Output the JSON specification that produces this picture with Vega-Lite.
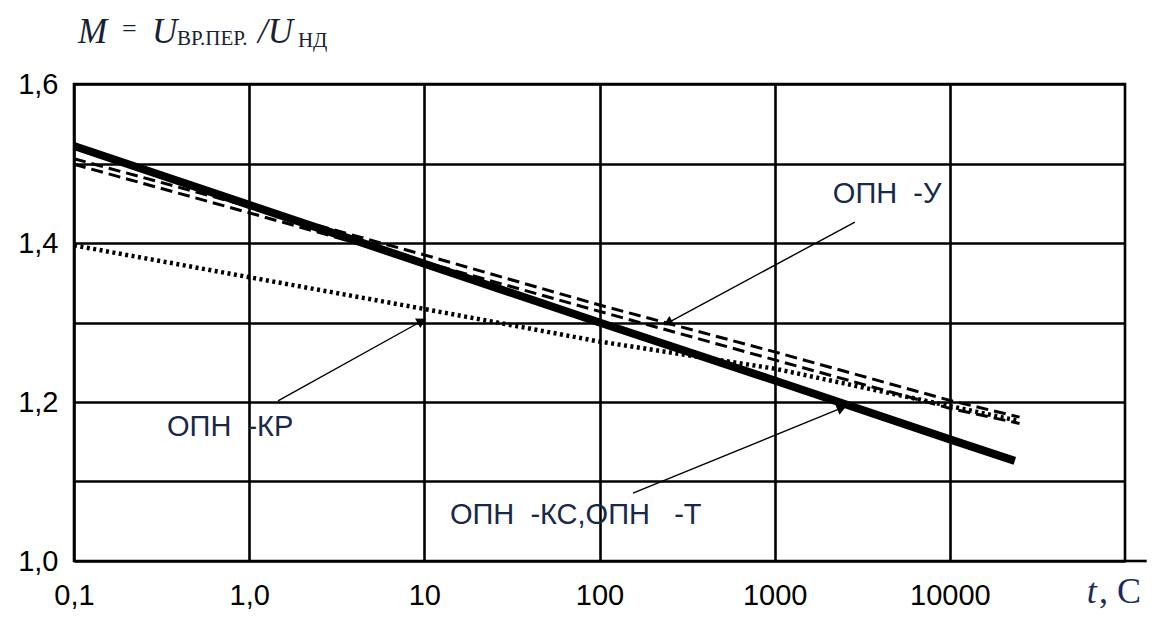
{
  "$schema": "https://vega.github.io/schema/vega-lite/v6.json",
  "width": 1051,
  "height": 477,
  "autosize": "none",
  "padding": {"left": 74, "top": 84, "right": 38, "bottom": 58},
  "background": "white",
  "config": {
    "view": {"stroke": "#000", "strokeWidth": 2.6},
    "axis": {
      "domain": false,
      "ticks": false,
      "grid": true,
      "gridColor": "#000",
      "gridWidth": 2.6,
      "gridOpacity": 1,
      "labelColor": "#000",
      "labelFont": "Liberation Sans",
      "labelFontSize": 29,
      "labelOverlap": false,
      "labelFlush": false,
      "labelBound": false,
      "title": null
    },
    "axisX": {"labelPadding": 20},
    "axisY": {"labelPadding": 16}
  },
  "datasets": {
    "curves": [
      {"series": "КС,Т", "t": 0.1, "m": 1.522},
      {"series": "КС,Т", "t": 1, "m": 1.448},
      {"series": "КС,Т", "t": 10, "m": 1.374},
      {"series": "КС,Т", "t": 100, "m": 1.3},
      {"series": "КС,Т", "t": 1000, "m": 1.227},
      {"series": "КС,Т", "t": 10000, "m": 1.153},
      {"series": "КС,Т", "t": 23500, "m": 1.126},
      {"series": "У1", "t": 0.1, "m": 1.506},
      {"series": "У1", "t": 1, "m": 1.446},
      {"series": "У1", "t": 10, "m": 1.385},
      {"series": "У1", "t": 100, "m": 1.322},
      {"series": "У1", "t": 1000, "m": 1.263},
      {"series": "У1", "t": 10000, "m": 1.202},
      {"series": "У1", "t": 25000, "m": 1.181},
      {"series": "У2", "t": 0.1, "m": 1.499},
      {"series": "У2", "t": 1, "m": 1.438},
      {"series": "У2", "t": 10, "m": 1.376},
      {"series": "У2", "t": 100, "m": 1.314},
      {"series": "У2", "t": 1000, "m": 1.253},
      {"series": "У2", "t": 10000, "m": 1.192},
      {"series": "У2", "t": 25000, "m": 1.173},
      {"series": "КР", "t": 0.1, "m": 1.397},
      {"series": "КР", "t": 1, "m": 1.357},
      {"series": "КР", "t": 10, "m": 1.317},
      {"series": "КР", "t": 100, "m": 1.276},
      {"series": "КР", "t": 1000, "m": 1.242},
      {"series": "КР", "t": 10000, "m": 1.195},
      {"series": "КР", "t": 25000, "m": 1.176}
    ],
    "arrows": [
      {"name": "У", "t": 2870, "m": 1.4264, "t2": 245.5, "m2": 1.2994},
      {"name": "КР", "t": 1.46, "m": 1.2013, "t2": 9.68, "m2": 1.3019},
      {"name": "КС", "t": 155.3, "m": 1.0855, "t2": 2419, "m2": 1.1925}
    ],
    "labels": [
      {"txt": "ОПН\u00a0\u00a0-У", "t": 2148, "m": 1.4616},
      {"txt": "ОПН\u00a0\u00a0-КР", "t": 0.3395, "m": 1.1686},
      {"txt": "ОПН\u00a0\u00a0-КС,ОПН\u00a0\u00a0\u00a0-Т", "t": 14.0, "m": 1.0579}
    ],
    "formula": [
      {"txt": "M", "t": 0.1054, "m": 1.6516, "kind": "big"},
      {"txt": "=", "t": 0.1879, "m": 1.659, "kind": "eq"},
      {"txt": "U", "t": 0.2787, "m": 1.6516, "kind": "big"},
      {"txt": "ВР.ПЕР.", "t": 0.3872, "m": 1.649, "kind": "small"},
      {"txt": "/U", "t": 1.122, "m": 1.6516, "kind": "big"},
      {"txt": "НД", "t": 1.899, "m": 1.6465, "kind": "small"},
      {"txt": "t", "t": 60500, "m": 0.947, "kind": "tit"},
      {"txt": ", C", "t": 71000, "m": 0.947, "kind": "tup"}
    ],
    "extension": [
      {"t": 100000, "t2": 133000, "m": 1.0}
    ]
  },
  "layer": [
    {
      "data": {"name": "curves"},
      "transform": [{"filter": "datum.series == 'КС,Т'"}],
      "mark": {"type": "line", "color": "#000", "strokeWidth": 8, "strokeCap": "butt"},
      "encoding": {
        "x": {
          "field": "t", "type": "quantitative", "title": null,
          "scale": {"type": "log", "domain": [0.1, 100000]},
          "axis": {
            "values": [0.1, 1, 10, 100, 1000, 10000],
            "labelExpr": "datum.value < 0.5 ? '0,1' : datum.value < 5 ? '1,0' : format(datum.value, 'd')"
          }
        },
        "y": {
          "field": "m", "type": "quantitative", "title": null,
          "scale": {"domain": [1.0, 1.6], "zero": false, "nice": false},
          "axis": {
            "values": [1.0, 1.1, 1.2, 1.3, 1.4, 1.5, 1.6],
            "labelExpr": "round(datum.value * 10) % 2 == 0 ? replace(format(datum.value, '.1f'), '.', ',') : ''"
          }
        }
      }
    },
    {
      "data": {"name": "curves"},
      "transform": [{"filter": "datum.series == 'У1' || datum.series == 'У2'"}],
      "mark": {"type": "line", "color": "#000", "strokeWidth": 3, "strokeDash": [12, 6], "strokeCap": "butt"},
      "encoding": {
        "x": {"field": "t", "type": "quantitative", "title": null},
        "y": {"field": "m", "type": "quantitative", "title": null},
        "detail": {"field": "series"}
      }
    },
    {
      "data": {"name": "curves"},
      "transform": [{"filter": "datum.series == 'КР'"}],
      "mark": {"type": "line", "color": "#000", "strokeWidth": 4.5, "strokeDash": [3, 3.5], "strokeCap": "butt"},
      "encoding": {
        "x": {"field": "t", "type": "quantitative", "title": null},
        "y": {"field": "m", "type": "quantitative", "title": null}
      }
    },
    {
      "data": {"name": "arrows"},
      "mark": {"type": "rule", "color": "#000", "strokeWidth": 1.4},
      "encoding": {
        "x": {"field": "t", "type": "quantitative", "title": null},
        "y": {"field": "m", "type": "quantitative", "title": null},
        "x2": {"field": "t2"},
        "y2": {"field": "m2"}
      }
    },
    {
      "data": {"name": "arrows"},
      "transform": [{"filter": "datum.name == 'У'"}],
      "mark": {"type": "point", "shape": "triangle-right", "filled": true, "color": "#000", "opacity": 1, "size": 120, "angle": 151.6},
      "encoding": {
        "x": {"field": "t2", "type": "quantitative", "title": null},
        "y": {"field": "m2", "type": "quantitative", "title": null}
      }
    },
    {
      "data": {"name": "arrows"},
      "transform": [{"filter": "datum.name == 'КР'"}],
      "mark": {"type": "point", "shape": "triangle-right", "filled": true, "color": "#000", "opacity": 1, "size": 120, "angle": 331},
      "encoding": {
        "x": {"field": "t2", "type": "quantitative", "title": null},
        "y": {"field": "m2", "type": "quantitative", "title": null}
      }
    },
    {
      "data": {"name": "arrows"},
      "transform": [{"filter": "datum.name == 'КС'"}],
      "mark": {"type": "point", "shape": "triangle-right", "filled": true, "color": "#000", "opacity": 1, "size": 120, "angle": 338},
      "encoding": {
        "x": {"field": "t2", "type": "quantitative", "title": null},
        "y": {"field": "m2", "type": "quantitative", "title": null}
      }
    },
    {
      "data": {"name": "labels"},
      "mark": {"type": "text", "align": "left", "baseline": "middle", "font": "Liberation Sans", "fontSize": 29, "color": "#17284a"},
      "encoding": {
        "x": {"field": "t", "type": "quantitative", "title": null},
        "y": {"field": "m", "type": "quantitative", "title": null},
        "text": {"field": "txt"}
      }
    },
    {
      "data": {"name": "formula"},
      "transform": [{"filter": "datum.kind == 'big'"}],
      "mark": {"type": "text", "align": "left", "baseline": "alphabetic", "font": "Liberation Serif", "fontStyle": "italic", "fontSize": 35, "color": "#1a1f33"},
      "encoding": {
        "x": {"field": "t", "type": "quantitative", "title": null},
        "y": {"field": "m", "type": "quantitative", "title": null},
        "text": {"field": "txt"}
      }
    },
    {
      "data": {"name": "formula"},
      "transform": [{"filter": "datum.kind == 'eq'"}],
      "mark": {"type": "text", "align": "left", "baseline": "alphabetic", "font": "Liberation Serif", "fontSize": 26, "color": "#1a1f33"},
      "encoding": {
        "x": {"field": "t", "type": "quantitative", "title": null},
        "y": {"field": "m", "type": "quantitative", "title": null},
        "text": {"field": "txt"}
      }
    },
    {
      "data": {"name": "formula"},
      "transform": [{"filter": "datum.kind == 'small'"}],
      "mark": {"type": "text", "align": "left", "baseline": "alphabetic", "font": "Liberation Serif", "fontSize": 21, "color": "#1a1f33"},
      "encoding": {
        "x": {"field": "t", "type": "quantitative", "title": null},
        "y": {"field": "m", "type": "quantitative", "title": null},
        "text": {"field": "txt"}
      }
    },
    {
      "data": {"name": "formula"},
      "transform": [{"filter": "datum.kind == 'tit'"}],
      "mark": {"type": "text", "align": "left", "baseline": "alphabetic", "font": "Liberation Serif", "fontStyle": "italic", "fontSize": 36, "color": "#1b2c5c"},
      "encoding": {
        "x": {"field": "t", "type": "quantitative", "title": null},
        "y": {"field": "m", "type": "quantitative", "title": null},
        "text": {"field": "txt"}
      }
    },
    {
      "data": {"name": "formula"},
      "transform": [{"filter": "datum.kind == 'tup'"}],
      "mark": {"type": "text", "align": "left", "baseline": "alphabetic", "font": "Liberation Serif", "fontSize": 36, "color": "#1b2c5c"},
      "encoding": {
        "x": {"field": "t", "type": "quantitative", "title": null},
        "y": {"field": "m", "type": "quantitative", "title": null},
        "text": {"field": "txt"}
      }
    },
    {
      "data": {"name": "extension"},
      "mark": {"type": "rule", "color": "#000", "strokeWidth": 2.6},
      "encoding": {
        "x": {"field": "t", "type": "quantitative", "title": null},
        "x2": {"field": "t2"},
        "y": {"field": "m", "type": "quantitative", "title": null}
      }
    }
  ]
}
